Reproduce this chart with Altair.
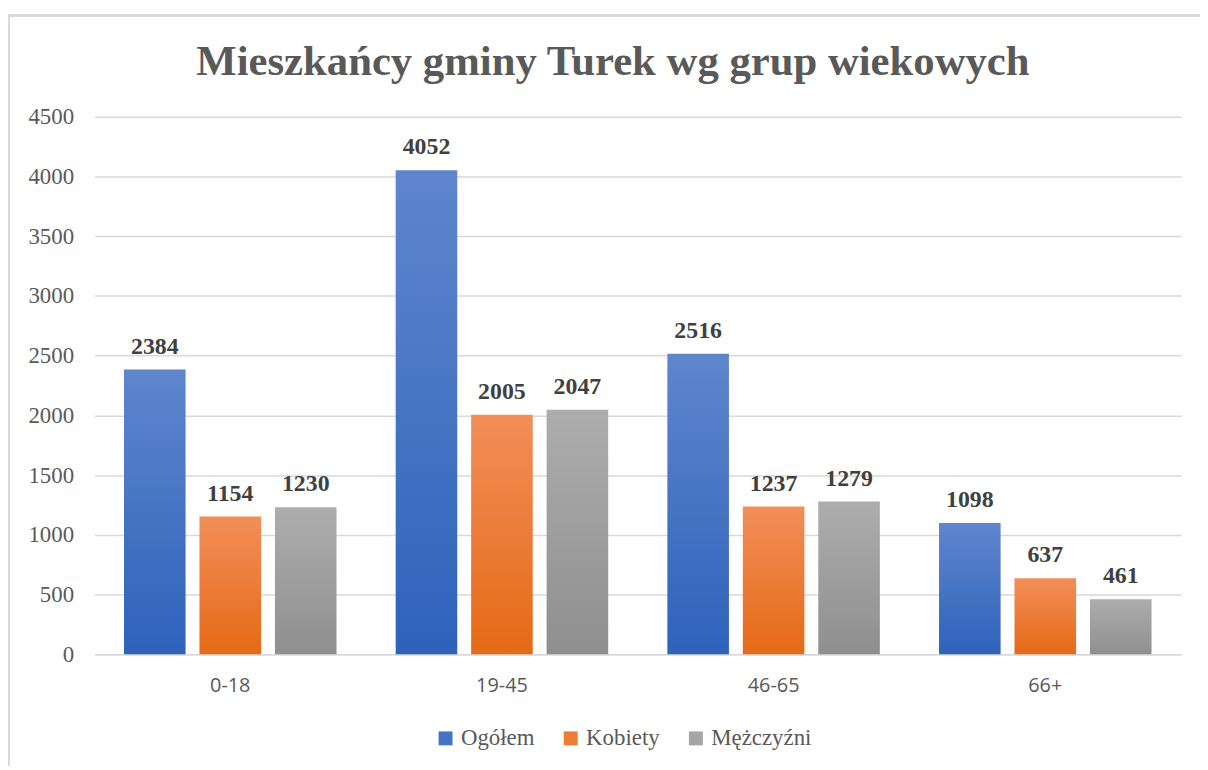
import altair as alt
import pandas as pd

title_text = "Mieszkańcy gminy Turek wg grup wiekowych"
groups = ["0-18", "19-45", "46-65", "66+"]
series = ["Ogółem", "Kobiety", "Mężczyźni"]
ogolem = [2384, 4052, 2516, 1098]
kobiety = [1154, 2005, 1237, 637]
mezczyzni = [1230, 2047, 1279, 461]
y_ticks = [0, 500, 1000, 1500, 2000, 2500, 3000, 3500, 4000, 4500]
legend_colors = ["#4472c4", "#ed7d31", "#a5a5a5"]
gradients = [
    ("#5f86cd", "#2e62bb"),
    ("#f28e59", "#e56a16"),
    ("#adadad", "#8f8f8f"),
]

rows = []
for i, g in enumerate(groups):
    for s, vals in zip(series, [ogolem, kobiety, mezczyzni]):
        rows.append({"grupa": g, "seria": s, "wartosc": vals[i]})
df = pd.DataFrame(rows)

W, H = 1094, 541
SERIF = "Liberation Serif"

x_enc = alt.X(
    "grupa:N", sort=groups,
    scale=alt.Scale(domain=groups, paddingInner=0, paddingOuter=0),
    axis=alt.Axis(title=None, labelAngle=0, labelFont="Open Sans", labelFontSize=20,
                  labelColor="#595959", labelPadding=22, ticks=False,
                  domainColor="#d9d9d9", domainWidth=1.5),
)
xo_enc = alt.XOffset(
    "seria:N", sort=series,
    scale=alt.Scale(domain=series, paddingInner=0.184, paddingOuter=0.392),
)
y_enc = alt.Y(
    "wartosc:Q", scale=alt.Scale(domain=[0, 4500]),
    axis=alt.Axis(values=y_ticks, format="d", title=None, labelFont=SERIF,
                  labelFontSize=23, labelColor="#595959", labelPadding=21, ticks=False,
                  domain=False, gridColor="#d9d9d9", gridWidth=1.5),
)

base = alt.Chart(df)

border = base.mark_rect(fill="transparent", stroke="#d9d9d9", strokeWidth=2).encode(
    x=alt.value(-86), x2=alt.value(W + 30), y=alt.value(-102), y2=alt.value(H + 200)
)

title_layer = alt.Chart(pd.DataFrame({"t": [title_text]})).mark_text(
    font=SERIF, fontSize=43, fontWeight="bold", color="#595959",
    align="center", baseline="alphabetic",
).encode(x=alt.value(522), y=alt.value(-42), text="t:N")

bar_layers = []
for s, (c_top, c_bot) in zip(series, gradients):
    grad = alt.Gradient(
        gradient="linear", x1=0, y1=0, x2=0, y2=1,
        stops=[alt.GradientStop(color=c_top, offset=0), alt.GradientStop(color=c_bot, offset=1)],
    )
    bar_layers.append(
        base.transform_filter(alt.datum.seria == s)
        .mark_bar(color=grad)
        .encode(x=x_enc, xOffset=xo_enc, y=y_enc)
    )

legend_layer = base.mark_bar(opacity=0).encode(
    x=x_enc, xOffset=xo_enc, y=y_enc,
    color=alt.Color(
        "seria:N", sort=series,
        scale=alt.Scale(domain=series, range=legend_colors),
        legend=alt.Legend(orient="none", legendX=342, legendY=614, title=None,
                          direction="horizontal",
                          symbolType="square", symbolSize=196, symbolOpacity=1,
                          symbolStrokeWidth=0, labelFont=SERIF,
                          labelFontSize=23, labelColor="#595959", columnPadding=24,
                          labelOffset=4),
    ),
)

labels = base.mark_text(
    font=SERIF, fontWeight="bold", fontSize=24, color="#404040",
    baseline="alphabetic", dy=-16,
).encode(x=x_enc, xOffset=xo_enc, y=y_enc, text=alt.Text("wartosc:Q"))

chart = (
    alt.layer(border, title_layer, *bar_layers, legend_layer, labels)
    .properties(
        width=W, height=H,
        background="white",
        padding={"left": 87, "top": 107, "right": 19, "bottom": 110},
        autosize=alt.AutoSizeParams(type="none"),
    )
    .configure_view(stroke=None)
    .configure_axisY(labelFont=SERIF, labelFontSize=23, labelColor="#595959")
    .configure_axisX(labelFont="Open Sans", labelFontSize=20, labelColor="#595959")
    .configure_legend(labelFont=SERIF, labelFontSize=23, labelColor="#595959")
)

chart.save("out.html", embed_options={"renderer": "svg", "actions": False})
